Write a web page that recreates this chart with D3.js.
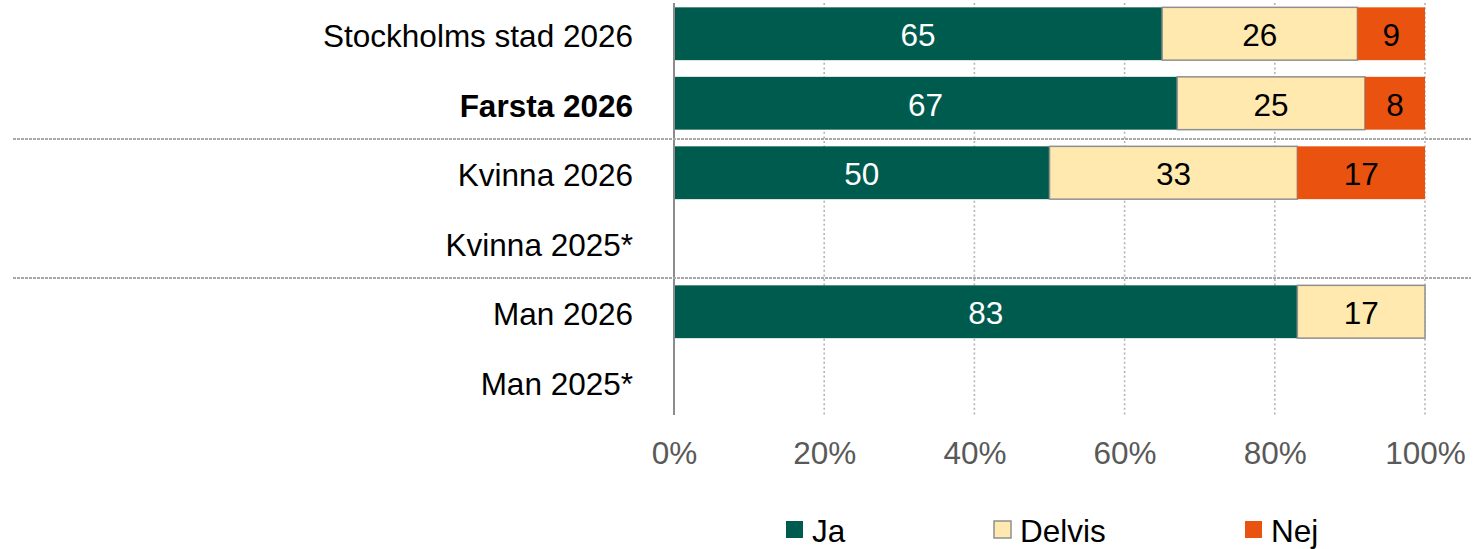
<!DOCTYPE html>
<html>
<head>
<meta charset="utf-8">
<script src="https://cdn.jsdelivr.net/npm/d3@7"></script>
<style>
  html, body { margin: 0; padding: 0; background: #fff; }
  svg { display: block; font-family: "Liberation Sans", Arial, sans-serif; }
</style>
</head>
<body>
<svg id="chart" width="1478" height="549"></svg>
<script>
// Categories (top to bottom) and stacked shares in percent
const categories = ["Stockholms stad 2026", "Farsta 2026", "Kvinna 2026", "Kvinna 2025*", "Man 2026", "Man 2025*"];
const boldCategories = ["Farsta 2026"];
const seriesNames = ["Ja", "Delvis", "Nej"];
const jaValues     = [65, 67, 50, null, 83, null];
const delvisValues = [26, 25, 33, null, 17, null];
const nejValues    = [9, 8, 17, null, 0, null];
const xTicks = [0, 20, 40, 60, 80, 100];
// Group dividers are drawn below these categories
const dividersAfter = ["Farsta 2026", "Kvinna 2025*"];

const colors = { "Ja": "#005B4F", "Delvis": "#FFE9AE", "Nej": "#E9530F" };
const textColors = { "Ja": "#ffffff", "Delvis": "#000000", "Nej": "#000000" };
const fontSize = 31.5;

const rows = categories.map((c, i) => ({
  category: c,
  Ja: jaValues[i] == null ? 0 : jaValues[i],
  Delvis: delvisValues[i] == null ? 0 : delvisValues[i],
  Nej: nejValues[i] == null ? 0 : nejValues[i]
}));

const svg = d3.select("#chart");
const x = d3.scaleLinear().domain([0, 100]).range([674, 1425]);
const y = d3.scaleBand().domain(categories).range([-1, 416]).paddingInner(0.24).paddingOuter(0.12);

// Vertical dotted gridlines
svg.append("g")
  .selectAll("line")
  .data(xTicks.filter(t => t > 0))
  .join("line")
  .attr("x1", d => x(d)).attr("x2", d => x(d))
  .attr("y1", 3).attr("y2", 415)
  .attr("stroke", "#b4b4b4")
  .attr("stroke-width", 1.6)
  .attr("stroke-dasharray", "2,2.6");

// Stacked bars
const stack = d3.stack().keys(seriesNames)(rows);
const layers = svg.append("g").selectAll("g")
  .data(stack)
  .join("g");

layers.selectAll("rect")
  .data(d => d.map(s => ({ key: d.key, s, cat: s.data.category })).filter(o => o.s[1] - o.s[0] > 0))
  .join("rect")
  .attr("x", d => x(d.s[0]))
  .attr("y", d => y(d.cat))
  .attr("width", d => x(d.s[1]) - x(d.s[0]))
  .attr("height", y.bandwidth())
  .attr("fill", d => colors[d.key])
  .attr("stroke", d => d.key === "Delvis" ? "#8f8f8f" : "none")
  .attr("stroke-width", d => d.key === "Delvis" ? 1.5 : 0);

// Value labels inside the segments
layers.selectAll("text")
  .data(d => d.map(s => ({ key: d.key, s, cat: s.data.category })).filter(o => o.s[1] - o.s[0] > 0))
  .join("text")
  .attr("x", d => (x(d.s[0]) + x(d.s[1])) / 2)
  .attr("y", d => y(d.cat) + y.bandwidth() / 2 + 1)
  .attr("dy", "0.36em")
  .attr("text-anchor", "middle")
  .attr("font-size", fontSize)
  .attr("fill", d => textColors[d.key])
  .text(d => d.s.data[d.key]);

// Left axis line
svg.append("line")
  .attr("x1", x(0)).attr("x2", x(0))
  .attr("y1", 3).attr("y2", 415)
  .attr("stroke", "#8c8c8c")
  .attr("stroke-width", 2);

// Category labels
svg.append("g")
  .selectAll("text")
  .data(categories)
  .join("text")
  .attr("x", 633)
  .attr("y", d => y(d) + y.bandwidth() / 2 + 2)
  .attr("dy", "0.36em")
  .attr("text-anchor", "end")
  .attr("font-size", fontSize)
  .attr("font-weight", d => boldCategories.includes(d) ? "bold" : "normal")
  .attr("fill", "#000")
  .text(d => d);

// Group dividers
svg.append("g")
  .selectAll("line")
  .data(dividersAfter)
  .join("line")
  .attr("x1", 13).attr("x2", 1471)
  .attr("y1", d => y(d) + y.bandwidth() + y.step() * y.paddingInner() / 2 + 1)
  .attr("y2", d => y(d) + y.bandwidth() + y.step() * y.paddingInner() / 2 + 1)
  .attr("stroke", "#a8a8a8")
  .attr("stroke-width", 2)
  .attr("stroke-dasharray", "3,1");

// X axis tick labels
const xAxis = d3.axisBottom(x)
  .tickValues(xTicks)
  .tickFormat(d => d + "%")
  .tickSize(0)
  .tickPadding(0);
const gx = svg.append("g").attr("transform", "translate(0,442)").call(xAxis);
gx.select(".domain").remove();
gx.selectAll("text")
  .attr("font-family", "\"Liberation Sans\", Arial, sans-serif")
  .attr("font-size", fontSize)
  .attr("fill", "#595959")
  .attr("dy", "0.71em");

// Legend
const legendX = [786, 994, 1245];
const legend = svg.append("g")
  .selectAll("g")
  .data(seriesNames)
  .join("g")
  .attr("transform", (d, i) => `translate(${legendX[i]},521)`);
legend.append("rect")
  .attr("width", 17).attr("height", 17)
  .attr("fill", d => colors[d])
  .attr("stroke", d => d === "Delvis" ? "#8f8f8f" : "none")
  .attr("stroke-width", 1.5);
legend.append("text")
  .attr("x", 26)
  .attr("y", 9.5)
  .attr("dy", "0.36em")
  .attr("font-size", fontSize)
  .attr("fill", "#000")
  .text(d => d);
</script>
</body>
</html>
